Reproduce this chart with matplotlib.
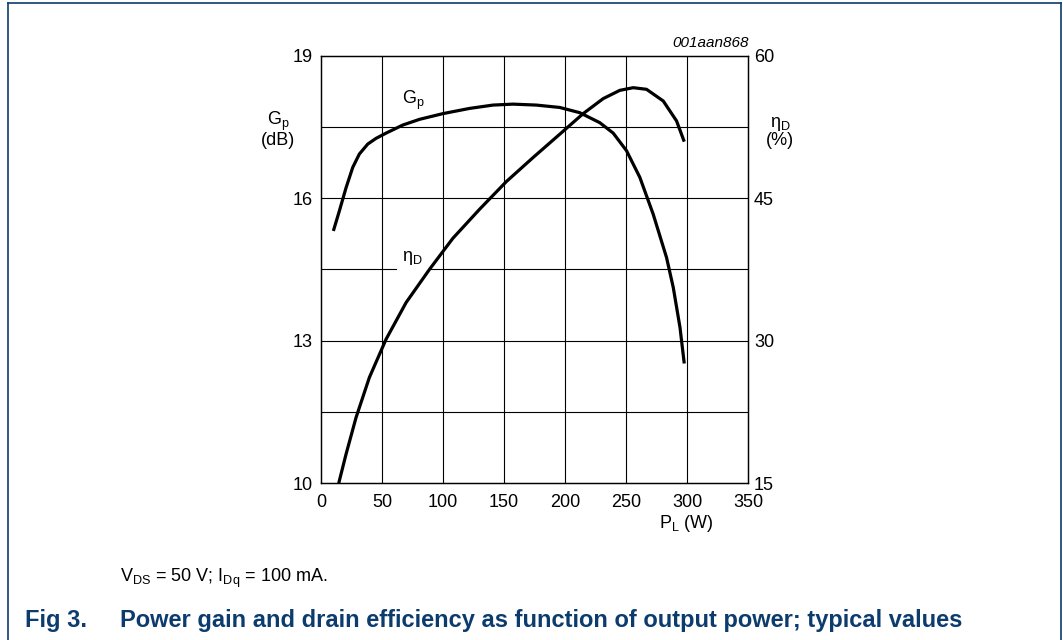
import matplotlib
matplotlib.use('Agg')
import matplotlib.pyplot as plt
import numpy as np

plt.rcParams['font.family'] = ['Liberation Sans', 'DejaVu Sans']
plt.rcParams['mathtext.default'] = 'regular'

# power gain (left axis, dB) vs output power (W)
gp_pl = [10.1, 15.0, 20.5, 26.0, 31.4, 38.3, 45.1, 53.3, 67.0, 80.7, 99.8, 121.7, 140.8,
         157.2, 176.4, 195.5, 211.9, 228.3, 239.3, 250.2, 261.1, 272.1, 283.0, 288.5,
         294.0, 297.5]
gp_db = [15.31, 15.73, 16.22, 16.65, 16.93, 17.14, 17.26, 17.37, 17.54, 17.66, 17.78,
         17.89, 17.96, 17.98, 17.96, 17.91, 17.80, 17.59, 17.37, 17.00, 16.44, 15.66,
         14.75, 14.12, 13.28, 12.52]

# drain efficiency (right axis, %) vs output power (W)
eff_pl = [14.5, 20.5, 28.7, 39.6, 53.3, 69.7, 88.9, 108.0, 129.9, 151.8, 173.6,
          195.5, 214.7, 231.1, 244.7, 255.7, 266.6, 280.3, 291.2, 297.5]
eff_pct = [15.0, 18.06, 21.92, 26.13, 30.16, 34.02, 37.52, 40.78, 43.84, 46.75, 49.27,
           51.73, 53.9, 55.48, 56.35, 56.63, 56.46, 55.23, 53.13, 50.95]

x_ticks = [0, 50, 100, 150, 200, 250, 300, 350]
gp_ticks = [10, 13, 16, 19]
eff_ticks = [15, 30, 45, 60]
gp_grid = [11.5, 13, 14.5, 16, 17.5]

blue = '#0c3c6e'

fig = plt.figure(figsize=(10.63, 6.4), dpi=100)
ax = fig.add_axes([0.302, 0.245, 0.402, 0.668])

ax.set_xlim(0, 350)
ax.set_ylim(10, 19)
ax.set_xticks(x_ticks)
ax.set_yticks(gp_ticks)
ax.tick_params(axis='x', length=0, labelsize=13, pad=7.5)
ax.tick_params(axis='y', length=0, labelsize=13, pad=6)

# grid; the 14.5 line is broken where the eta label sits
for x in x_ticks[1:-1]:
    ax.axvline(x, color='black', lw=0.8, zorder=1)
for y in gp_grid:
    if y == 14.5:
        ax.plot([0, 61], [y, y], color='black', lw=0.8, zorder=1)
        ax.plot([90, 350], [y, y], color='black', lw=0.8, zorder=1)
    else:
        ax.axhline(y, color='black', lw=0.8, zorder=1)
for s in ax.spines.values():
    s.set_linewidth(0.9)

ax.plot(gp_pl, gp_db, color='black', lw=2.3, zorder=3, solid_capstyle='butt')

ax2 = ax.twinx()
ax2.set_ylim(15, 60)
ax2.set_yticks(eff_ticks)
ax2.tick_params(length=0, labelsize=13, pad=4)
for s in ax2.spines.values():
    s.set_linewidth(0.9)
ax2.plot(eff_pl, eff_pct, color='black', lw=2.3, zorder=3, solid_capstyle='butt')

ax.text(66.5, 17.98, '$G_p$', fontsize=13, ha='left', va='baseline')
ax.text(66.4, 14.68, '$\\eta_D$', fontsize=13, ha='left', va='baseline')

fig.text(0.2615, 0.798, '$G_p$\n(dB)', fontsize=13, ha='center', va='center', linespacing=0.9)
fig.text(0.7338, 0.794, '$\\eta_D$\n(%)', fontsize=13, ha='center', va='center', linespacing=0.9)
fig.text(0.704, 0.926, '001aan868', fontsize=11, style='italic', ha='right', va='baseline')
fig.text(0.6455, 0.182, '$P_L$ (W)', fontsize=13, ha='center', va='center')

fig.text(0.113, 0.097, '$V_{DS}$ = 50 V; $I_{Dq}$ = 100 mA.', fontsize=13,
         ha='left', va='center')
fig.text(0.0235, 0.03, 'Fig 3.', fontsize=17, fontweight='bold', color=blue,
         ha='left', va='center')
fig.text(0.113, 0.03, 'Power gain and drain efficiency as function of output power; typical values',
         fontsize=17, fontweight='bold', color=blue, ha='left', va='center')

# page frame, open at the bottom
frame = dict(transform=fig.transFigure, color=blue, lw=1.2)
fig.add_artist(plt.Line2D([0.0078, 0.0078], [0.0, 0.9948], **frame))
fig.add_artist(plt.Line2D([0.0078, 0.9978], [0.9948, 0.9948], **frame))
fig.add_artist(plt.Line2D([0.9978, 0.9978], [0.0, 0.9948], **frame))

fig.savefig('out.png', dpi=100)
